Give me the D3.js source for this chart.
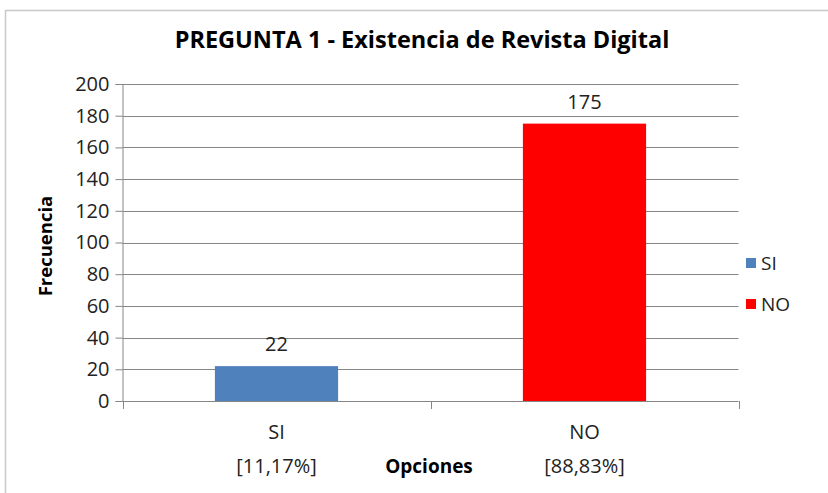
<!DOCTYPE html>
<html><head><meta charset="utf-8">
<script src="https://cdn.jsdelivr.net/npm/d3@7"></script>
<style>body{margin:0;background:#fff}svg{display:block}text{font-family:"Open Sans",sans-serif}</style>
</head><body>
<svg id="c" width="828" height="493"></svg>
<script>
const categories = ["SI", "NO"];
const percentLabels = ["[11,17%]", "[88,83%]"];
const values = [22, 175];
const colors = ["#4F81BD", "#FF0000"];
const yTicks = [0,20,40,60,80,100,120,140,160,180,200];
const title = "PREGUNTA 1 - Existencia de Revista Digital";

const svg = d3.select("#c");
const m = {l:122.5, r:738.5, t:84, b:401};
svg.append("rect").attr("x",5.5).attr("y",10.5).attr("width",840).attr("height",500)
  .attr("fill","#fff").attr("stroke","#c8c8c8").attr("stroke-width",1.5);

const x = d3.scaleBand().domain(categories).range([m.l, m.r]).paddingInner(0.6).paddingOuter(0.3);
const y = d3.scaleLinear().domain([0,200]).range([m.b, m.t]);

// gridlines
svg.append("g").selectAll("line").data(yTicks.slice(1)).join("line")
  .attr("x1", m.l).attr("x2", m.r).attr("y1", d=>Math.round(y(d))+0.5).attr("y2", d=>Math.round(y(d))+0.5)
  .attr("stroke","#868686").attr("stroke-width",1);

// bars
svg.append("g").selectAll("rect").data(values).join("rect")
  .attr("x",(d,i)=>x(categories[i])).attr("width",x.bandwidth())
  .attr("y",d=>y(d)).attr("height",d=>y(0)-y(d)).attr("fill",(d,i)=>colors[i]);

// value labels
svg.append("g").selectAll("text").data(values).join("text")
  .attr("x",(d,i)=>x(categories[i])+x.bandwidth()/2).attr("y",d=>y(d)-15)
  .attr("text-anchor","middle").attr("font-size",20).attr("fill","#222").text(d=>d);

// y axis
const ya = svg.append("g").attr("transform",`translate(${m.l},0)`)
  .call(d3.axisLeft(y).tickValues(yTicks).tickSize(7).tickPadding(6));
ya.select(".domain").attr("stroke","#868686");
ya.selectAll(".tick line").attr("stroke","#868686");
ya.selectAll(".tick text").attr("font-size",20).attr("fill","#222").attr("font-family","'Open Sans',sans-serif");

// x axis
svg.append("line").attr("x1",m.l).attr("x2",m.r).attr("y1",m.b+0.5).attr("y2",m.b+0.5).attr("stroke","#868686");
const step = (m.r-m.l)/categories.length;
svg.append("g").selectAll("line").data(d3.range(categories.length+1)).join("line")
  .attr("x1",i=>Math.round(m.l+i*step)+0.5).attr("x2",i=>Math.round(m.l+i*step)+0.5)
  .attr("y1",m.b).attr("y2",m.b+8).attr("stroke","#868686");

svg.append("g").selectAll("text").data(categories).join("text")
  .attr("x",d=>x(d)+x.bandwidth()/2).attr("y",439).attr("text-anchor","middle")
  .attr("font-size",20).attr("fill","#222").text(d=>d);
svg.append("g").selectAll("text").data(percentLabels).join("text")
  .attr("x",(d,i)=>x(categories[i])+x.bandwidth()/2).attr("y",473).attr("text-anchor","middle")
  .attr("font-size",20).attr("fill","#222").text(d=>d);

svg.append("text").attr("x",429).attr("y",473).attr("text-anchor","middle")
  .attr("font-size",19).attr("font-weight","bold").attr("fill","#000").text("Opciones");

svg.append("text").attr("transform","translate(52,246) rotate(-90)").attr("text-anchor","middle")
  .attr("font-size",18.5).attr("font-weight","bold").attr("fill","#000").text("Frecuencia");

svg.append("text").attr("x",422).attr("y",48).attr("text-anchor","middle")
  .attr("font-size",23.5).attr("font-weight","bold").attr("fill","#000").text(title);

// legend
const lg = svg.append("g").selectAll("g").data(categories).join("g")
  .attr("transform",(d,i)=>`translate(746,${258+i*41})`);
lg.append("rect").attr("width",10).attr("height",10).attr("fill",(d,i)=>colors[i]);
lg.append("text").attr("x",15).attr("y",12).attr("font-size",19).attr("fill","#222").text(d=>d);
</script>
</body></html>
